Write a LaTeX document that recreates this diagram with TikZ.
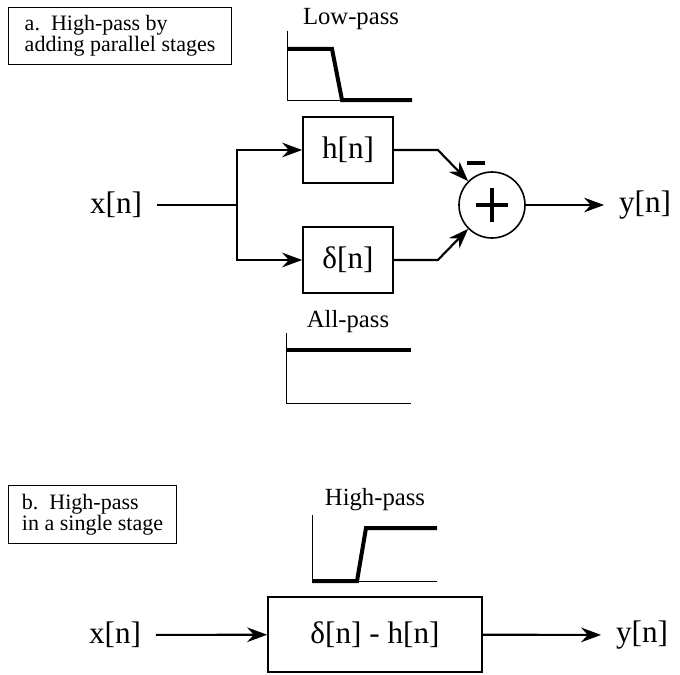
\documentclass[tikz,border=0pt]{standalone}
\usepackage{fontspec}
\setmainfont{Liberation Serif}
\usetikzlibrary{arrows.meta}
\tikzset{
  sigtext/.style={inner xsep=11pt, inner ysep=0pt, font=\fontsize{23.4}{28}\selectfont},
  block/.style={draw, line width=1.3pt, inner sep=0pt, font=\fontsize{23.4}{28}\selectfont},
  sumnode/.style={draw, circle, line width=1.2pt, minimum size=49.5pt, inner sep=0pt},
  capbox/.style={draw, line width=0.8pt, align=left, inner sep=0pt,
    font=\fontsize{16.5}{15.75}\selectfont},
  resplabel/.style={inner sep=0pt, font=\fontsize{18.5}{22}\selectfont},
  wire/.style={line width=1.6pt},
  sig/.style={wire, -{Stealth[length=15pt, width=11pt, inset=5pt]}},
  axis/.style={line width=0.6pt},
  resp/.style={line width=3pt},
}
\begin{document}
\begin{tikzpicture}[x=0.75pt, y=-0.75pt]
            \useasboundingbox (0,0) rectangle (680,674);
            % a. parallel stages
            \node[capbox, anchor=north west, minimum width=167.25pt, minimum height=42.75pt]%
              (capa) at (8,7) {a.\ \ High-pass by\\adding parallel stages};
            \node[sigtext] (xa) at (116,205) {x[n]};
            \coordinate (split) at (237,205);
            \node[block, minimum width=67.5pt, minimum height=49.5pt] (hbox) at (348,150) {h[n]};
            \node[block, minimum width=67.5pt, minimum height=49.5pt] (dbox) at (348,260) {δ[n]};
            \node[sumnode] (sum) at (492,205) {};
            \draw [line width=3.6pt] (sum.center) +(-16,0) -- +(16,0) (sum.center) +(0,-17) -- +(0,17);
            \node[inner sep=0pt] (minus) at (476,163) {\rule{13.5pt}{3pt}};
            \node[sigtext] (ya) at (645,205) {y[n]};
            \draw [wire] (xa) -- (split);
            \draw [sig] (split) |- (hbox);
            \draw [sig] (split) |- (dbox);
            \draw [sig] (hbox.east) -- ++(44,0) -- (sum.135);
            \draw [sig] (dbox.east) -- ++(44,0) -- (sum.225);
            \draw [sig] (sum) -- (ya);
            % Low-pass response
            \node[resplabel, anchor=base] (lplabel) at (351,25) {Low-pass};
            \draw [axis] (287,31) -- (287,100) -- (412,100);
            \draw [resp] (287,49) -- (332,49) -- (342,100) -- (412,100);
            % All-pass response
            \node[resplabel, anchor=base] (aplabel) at (348,327) {All-pass};
            \draw [axis] (286,333) -- (286,403) -- (411,403);
            \draw [resp] (286,350) -- (411,350);
            % b. single stage
            \node[capbox, anchor=north west, minimum width=126pt, minimum height=43.5pt]%
              (capb) at (8,485) {b.\ \ High-pass\\in a single stage};
            \node[resplabel, anchor=base] (hplabel) at (375,505) {High-pass};
            \draw [axis] (312,515) -- (312,581) -- (437,581);
            \draw [resp] (312,581) -- (357,581) -- (366,528) -- (437,528);
            \node[sigtext] (xb) at (115,635) {x[n]};
            \node[block, minimum width=160.5pt, minimum height=56.25pt] (hpbox) at (375,634.5) {δ[n] - h[n]};
            \node[sigtext] (yb) at (642,635) {y[n]};
            \draw [sig] (xb) -- (hpbox);
            \draw [sig] (hpbox) -- (yb);
        \end{tikzpicture}
\end{document}
